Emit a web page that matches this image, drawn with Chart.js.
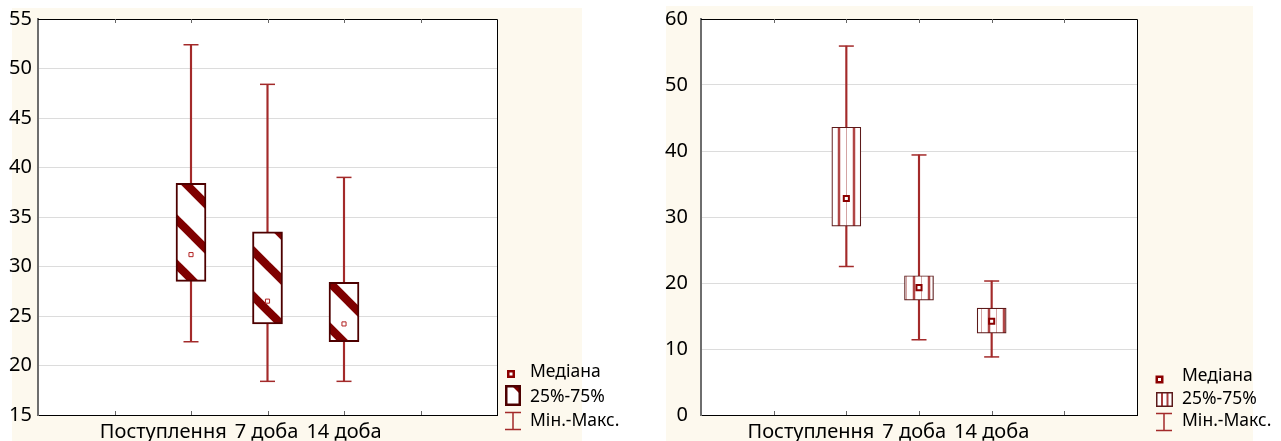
<!DOCTYPE html>
<html><head><meta charset="utf-8">
<script src="https://cdn.jsdelivr.net/npm/chart.js@4.4.0/dist/chart.umd.min.js"></script>
<style>
html,body{margin:0;padding:0;background:#fff;width:1281px;height:441px;overflow:hidden;}
.bg{position:absolute;background:#fdf9ee;}
canvas{position:absolute;top:0;}
</style></head><body>
<div class="bg" style="left:12px;top:8px;width:570px;height:433px"></div>
<div class="bg" style="left:666px;top:6px;width:587px;height:435px"></div>
<canvas id="c1" width="640" height="441" style="left:0px"></canvas>
<canvas id="c2" width="641" height="441" style="left:640px"></canvas>
<script>
// ---- data ----
const categories = ['Поступлення', '7 доба', '14 доба'];
const categoryPositions = [2, 3, 4];
const legendLabels = ['Медіана', '25%-75%', 'Мін.-Макс.'];

// left chart
const leftMin    = [22.4, 18.4, 18.4];
const leftQ1     = [28.5, 24.2, 22.4];
const leftMedian = [31.2, 26.5, 24.2];
const leftQ3     = [38.4, 33.5, 28.4];
const leftMax    = [52.4, 48.4, 39.0];
const leftTicks  = [15, 20, 25, 30, 35, 40, 45, 50, 55];

// right chart
const rightMin    = [22.5, 11.4, 8.8];
const rightQ1     = [28.6, 17.4, 12.4];
const rightMedian = [32.8, 19.3, 14.2];
const rightQ3     = [43.6, 21.1, 16.2];
const rightMax    = [55.9, 39.4, 20.3];
const rightTicks  = [0, 10, 20, 30, 40, 50, 60];

const FONT = '"Noto Sans", "Open Sans", sans-serif';
const WHISKER = '#a32a2a';

function diagPattern() {
  const s = 45, c = document.createElement('canvas'); c.width = s; c.height = s;
  const g = c.getContext('2d');
  g.fillStyle = '#fff'; g.fillRect(0, 0, s, s);
  g.strokeStyle = '#7f0000'; g.lineWidth = 8.3;
  for (const off of [-47, -2, 43]) {
    g.beginPath(); g.moveTo(-12, -12 + off); g.lineTo(s + 12, s + 12 + off); g.stroke();
  }
  return g.createPattern(c, 'repeat');
}
function vertPattern() {
  const c = document.createElement('canvas'); c.width = 15; c.height = 4;
  const g = c.getContext('2d');
  g.fillStyle = '#fff'; g.fillRect(0, 0, 15, 4);
  g.fillStyle = '#b04646'; g.fillRect(2.75, 0, 2.5, 4);
  g.fillStyle = '#d3a4a4'; g.fillRect(11, 0, 1, 4);
  return g.createPattern(c, 'repeat');
}

const decor = {
  id: 'decor',
  beforeDraw(chart) {
    const { ctx, chartArea: a } = chart;
    ctx.save();
    ctx.fillStyle = '#fff';
    ctx.fillRect(a.left, a.top, a.right - a.left, a.bottom - a.top);
    ctx.restore();
  },
  afterDraw(chart, args, o) {
    const { ctx, chartArea: a, scales: { x } } = chart;
    ctx.save();
    // top & right frame
    ctx.strokeStyle = '#000'; ctx.lineWidth = 1;
    ctx.beginPath();
    ctx.moveTo(a.left, a.top + 0.5); ctx.lineTo(a.right + 0.5, a.top + 0.5); ctx.lineTo(a.right + 0.5, a.bottom);
    ctx.stroke();
    // inner ticks on top and bottom
    ctx.strokeStyle = '#666';
    ctx.beginPath();
    x.ticks.forEach(t => {
      if (t.value <= x.min || t.value >= x.max) return;
      const px = Math.round(x.getPixelForValue(t.value)) + 0.5;
      ctx.moveTo(px, a.top); ctx.lineTo(px, a.top + 4);
      ctx.moveTo(px, a.bottom); ctx.lineTo(px, a.bottom - 4);
    });
    ctx.stroke();
    // category labels
    ctx.font = '20px ' + FONT; ctx.fillStyle = '#000'; ctx.textBaseline = 'alphabetic'; ctx.textAlign = 'left';
    const items = categories.map((t, i) => {
      const w = ctx.measureText(t).width, c = x.getPixelForValue(categoryPositions[i]);
      return { t, w, l: c - w / 2 };
    });
    for (let i = items.length - 2; i >= 0; i--) {
      const lim = items[i + 1].l - 8;
      if (items[i].l + items[i].w > lim) items[i].l = lim - items[i].w;
    }
    items.forEach(it => ctx.fillText(it.t, it.l, 438));
    // legend
    const L = o.legend;
    ctx.font = '17.5px ' + FONT; ctx.textBaseline = 'middle';
    // median icon
    ctx.fillStyle = '#8b0000';
    ctx.fillRect(L.mx - L.ms / 2, L.my - L.ms / 2, L.ms, L.ms);
    ctx.fillStyle = '#fff';
    ctx.fillRect(L.mx - 1.5, L.my - 1.5, 3, 3);
    // box icon
    const b = L.box;
    ctx.fillStyle = '#fff'; ctx.fillRect(b.x, b.y, b.w, b.h);
    if (L.style === 'diag') {
      ctx.fillStyle = '#7f0000';
      ctx.beginPath(); ctx.moveTo(b.x + b.w - 10, b.y); ctx.lineTo(b.x + b.w, b.y); ctx.lineTo(b.x + b.w, b.y + 10); ctx.closePath(); ctx.fill();
      ctx.strokeStyle = '#4d0000'; ctx.lineWidth = 2.5;
      ctx.strokeRect(b.x + 1.25, b.y + 1.25, b.w - 2.5, b.h - 2.5);
    } else {
      ctx.fillStyle = '#a83c3c';
      ctx.fillRect(b.x + 5, b.y, 2, b.h);
      ctx.fillRect(b.x + 10.5, b.y, 2, b.h);
      ctx.strokeStyle = '#5c1a1a'; ctx.lineWidth = 1.5;
      ctx.strokeRect(b.x + 0.75, b.y + 0.75, b.w - 1.5, b.h - 1.5);
    }
    // whisker icon
    const w = L.wh;
    ctx.strokeStyle = WHISKER; ctx.lineWidth = 1.5;
    ctx.beginPath();
    ctx.moveTo(w.x, w.y1); ctx.lineTo(w.x, w.y2);
    ctx.moveTo(w.x - w.hw, w.y1 + 0.5); ctx.lineTo(w.x + w.hw, w.y1 + 0.5);
    ctx.moveTo(w.x - w.hw, w.y2 - 0.5); ctx.lineTo(w.x + w.hw, w.y2 - 0.5);
    ctx.stroke();
    // legend texts
    ctx.fillStyle = '#000';
    legendLabels.forEach((t, i) => ctx.fillText(t, L.tx, L.ty[i]));
    ctx.restore();
  }
};

function makeChart(id, c) {
  const pts = arr => arr.map((v, i) => ({ x: categoryPositions[i], y: v }));
  const ranges = (a, b) => a.map((v, i) => ({ x: categoryPositions[i], y: [v, b[i]] }));
  const yMin = c.ticks[0], yMax = c.ticks[c.ticks.length - 1];
  return new Chart(document.getElementById(id), {
    type: 'bar',
    data: {
      datasets: [
        { type: 'scatter', data: pts(c.med), order: 0, pointStyle: 'rect', pointRadius: c.medR,
          pointBackgroundColor: '#fff', pointBorderColor: c.medColor, pointBorderWidth: c.medBW },
        { type: 'bar', data: ranges(c.q1, c.q3), order: 1, grouped: false, barThickness: c.boxW,
          backgroundColor: c.fill, borderColor: c.boxBorder, borderWidth: c.boxBW, borderSkipped: false },
        { type: 'scatter', data: pts(c.min).concat(pts(c.max)), order: 2, pointStyle: 'line', pointRadius: 7.5,
          pointBorderColor: WHISKER, pointBorderWidth: 1.5 },
        { type: 'bar', data: ranges(c.min, c.max), order: 3, grouped: false, barThickness: 1.5,
          backgroundColor: WHISKER, borderWidth: 0 }
      ]
    },
    options: {
      responsive: false, animation: false, devicePixelRatio: 1, events: [],
      layout: { autoPadding: false, padding: { left: 0, top: 19, right: c.rightPad, bottom: 0 } },
      plugins: { legend: { display: false }, tooltip: { enabled: false }, decor: { legend: c.legend } },
      scales: {
        x: { type: 'linear', min: 0, max: 6, offset: false,
             ticks: { display: false, stepSize: 1 }, grid: { display: false },
             border: { display: true, color: '#000', width: 1 },
             afterFit(s) { s.height = 26; s.paddingLeft = 0; s.paddingRight = 0; } },
        y: { type: 'linear', min: yMin, max: yMax,
             afterBuildTicks(s) { s.ticks = c.ticks.map(v => ({ value: v })); },
             ticks: { font: { family: FONT, size: 20 }, color: '#000', padding: c.yPad },
             grid: { drawTicks: false, lineWidth: 1,
                     color: ctx => (ctx.tick && (ctx.tick.value === yMin || ctx.tick.value === yMax)) ? 'rgba(0,0,0,0)' : '#dcdcdc' },
             border: { color: '#6e6e6e', width: 2 },
             afterFit(s) { s.width = c.yWidth; s.paddingTop = 0; s.paddingBottom = 0; } }
      }
    },
    plugins: [decor]
  });
}

makeChart('c1', {
  min: leftMin, q1: leftQ1, med: leftMedian, q3: leftQ3, max: leftMax, ticks: leftTicks,
  fill: diagPattern(), boxBorder: '#4d0000', boxBW: 2, boxW: 30,
  medR: 2.9, medBW: 1, medColor: '#b22222',
  yWidth: 38, yPad: 6, rightPad: 143,
  legend: { mx: 511, my: 374, ms: 8, tx: 530, ty: [372, 397, 421],
            box: { x: 505, y: 385, w: 16, h: 21 }, wh: { x: 513, y1: 412, y2: 430, hw: 8 }, style: 'diag' }
});
makeChart('c2', {
  min: rightMin, q1: rightQ1, med: rightMedian, q3: rightQ3, max: rightMax, ticks: rightTicks,
  fill: vertPattern(), boxBorder: '#5c1a1a', boxBW: 1.2, boxW: 29,
  medR: 3.6, medBW: 2, medColor: '#8b0000',
  yWidth: 61, yPad: 13, rightPad: 144,
  legend: { mx: 519.5, my: 379.5, ms: 8, tx: 542, ty: [376, 399, 421],
            box: { x: 516, y: 392, w: 17, h: 15 }, wh: { x: 524, y1: 413, y2: 431, hw: 8 }, style: 'vert' }
});
</script>
</body></html>
